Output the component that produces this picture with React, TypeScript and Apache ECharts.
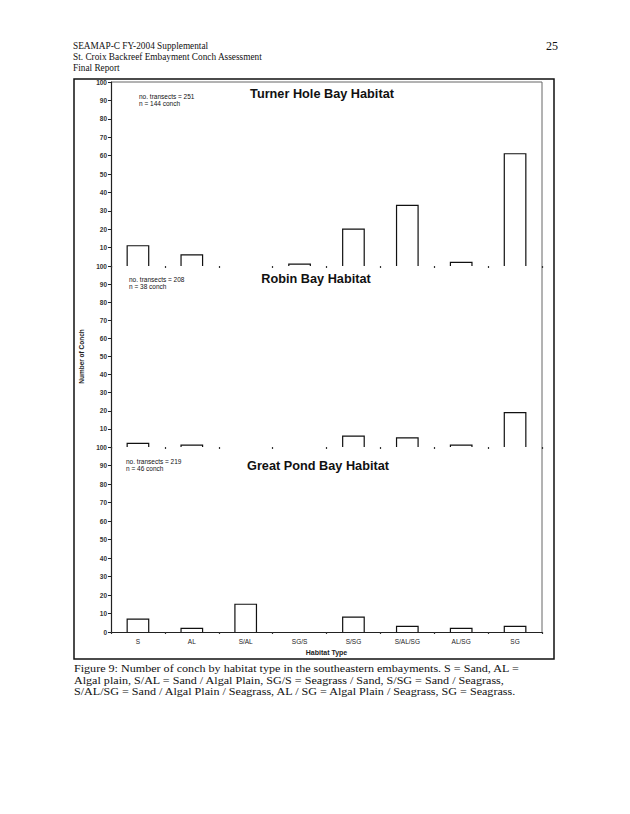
import React, { useEffect, useRef } from "react";
import * as echarts from "echarts";

const categories = ["S", "AL", "S/AL", "SG/S", "S/SG", "S/AL/SG", "AL/SG", "SG"];
const turnerHole = [11, 6, 0, 1, 20, 33, 2, 61];
const robinBay = [2, 1, 0, 0, 6, 5, 1, 19];
const greatPond = [7, 2, 15, 0, 8, 3, 2, 3];
const chartTitles = ["Turner Hole Bay Habitat", "Robin Bay Habitat", "Great Pond Bay Habitat"];
const transects = ["no. transects = 251", "no. transects = 208", "no. transects = 219"];
const conchCounts = ["n = 144 conch", "n = 38 conch", "n = 46 conch"];
const headerLines = [
  "SEAMAP-C FY-2004 Supplemental",
  "St. Croix Backreef Embayment Conch Assessment",
  "Final Report",
];
const pageNumber = "25";
const captionLines = [
  "Figure 9: Number of conch by habitat type in the southeastern embayments. S = Sand, AL =",
  "Algal plain, S/AL = Sand / Algal Plain, SG/S = Seagrass / Sand, S/SG = Sand / Seagrass,",
  "S/AL/SG = Sand / Algal Plain / Seagrass, AL / SG = Algal Plain / Seagrass, SG = Seagrass.",
];
const yMin = 0;
const yMax = 100;
const yInterval = 10;

const seriesValues = [turnerHole, robinBay, greatPond];

// layout
const PLOT_L = 111;
const PLOT_R = 542;
const GRID_TOPS = [82, 266, 447];
const GRID_BOTTOMS = [266, 447, 632];
const SANS = "Liberation Sans, Arial, sans-serif";
const SERIF = "Liberation Serif, Times New Roman, serif";

function buildOption() {
  const grids = GRID_TOPS.map((t, i) => ({
    left: PLOT_L,
    width: PLOT_R - PLOT_L,
    top: t,
    height: GRID_BOTTOMS[i] - t,
    containLabel: false,
  }));

  const xAxes = [0, 1, 2].map((i) => ({
    type: "category",
    gridIndex: i,
    data: categories,
    boundaryGap: true,
    axisLine: { show: i === 2, lineStyle: { color: "#222", width: 1.2 } },
    axisTick: { show: true, length: 2, lineStyle: { color: "#333", width: 1.2 } },
    axisLabel: {
      show: i === 2,
      fontFamily: SANS,
      fontSize: 6.5,
      color: "#222",
      margin: 6,
      interval: 0,
    },
    name: i === 2 ? "Habitat Type" : "",
    nameLocation: "middle",
    nameGap: 17,
    nameTextStyle: { fontFamily: SANS, fontSize: 7, fontWeight: "bold", color: "#222" },
  }));

  const yAxes = [0, 1, 2].map((i) => ({
    type: "value",
    gridIndex: i,
    min: yMin,
    max: yMax,
    interval: yInterval,
    axisLine: { show: true, lineStyle: { color: "#222", width: 1.2 } },
    axisTick: { show: true, length: 3, lineStyle: { color: "#222" } },
    splitLine: { show: false },
    axisLabel: {
      fontFamily: SANS,
      fontSize: 6.5,
      fontWeight: "bold",
      color: "#333",
      margin: 4,
      showMinLabel: i === 2,
    },
    name: i === 1 ? "Number of Conch" : "",
    nameLocation: "middle",
    nameGap: 19,
    nameRotate: 90,
    nameTextStyle: { fontFamily: SANS, fontSize: 6.5, fontWeight: "bold", color: "#222" },
  }));

  const series = seriesValues.map((vals, i) => ({
    type: "custom",
    xAxisIndex: i,
    yAxisIndex: i,
    data: vals.map((v, k) => [k, v]),
    renderItem: (params: any, api: any) => {
      const v = api.value(1);
      if (!v) return null;
      const top = api.coord([api.value(0), v]);
      const base = api.coord([api.value(0), 0]);
      const band = api.size([1, 0])[0];
      const w = band * 0.4;
      const x0 = top[0] - w / 2;
      const x1 = top[0] + w / 2;
      return {
        type: "polyline",
        shape: {
          points: [
            [x0, base[1]],
            [x0, top[1]],
            [x1, top[1]],
            [x1, base[1]],
          ],
        },
        style: { stroke: "#111", fill: "none", lineWidth: 1.2 },
      };
    },
  }));

  const text = (
    x: number,
    y: number,
    t: string,
    font: string,
    align = "left",
    scaleX = 1
  ) => ({
    type: "text",
    x,
    y,
    scaleX,
    style: {
      text: t,
      font,
      fill: "#111",
      align,
      verticalAlign: "middle",
      textAlign: align,
      textVerticalAlign: "middle",
    },
  });

  const graphic: any[] = [];
  // outer frame
  graphic.push({
    type: "rect",
    shape: { x: 74, y: 79, width: 480, height: 580 },
    style: { fill: "none", stroke: "#111", lineWidth: 1.5 },
  });
  // plot top and right borders
  graphic.push({
    type: "line",
    shape: { x1: PLOT_L, y1: GRID_TOPS[0], x2: PLOT_R, y2: GRID_TOPS[0] },
    style: { stroke: "#666", lineWidth: 1 },
  });
  graphic.push({
    type: "line",
    shape: { x1: PLOT_R, y1: GRID_TOPS[0], x2: PLOT_R, y2: GRID_BOTTOMS[2] },
    style: { stroke: "#666", lineWidth: 1 },
  });
  // header
  headerLines.forEach((l, i) => {
    graphic.push(text(73, 45 + i * 11, l, `10px ${SERIF}`, "left", 0.93));
  });
  graphic.push(text(558, 46, pageNumber, `12px ${SERIF}`, "right"));
  // chart titles & annotations
  const titleX = [322, 316, 318];
  const titleY = [94, 279, 466];
  const annX = [139, 129, 126];
  const annY = [96, 279, 461];
  chartTitles.forEach((t, i) => {
    graphic.push(text(titleX[i], titleY[i], t, `bold 12px ${SANS}`, "center", 1.06));
    graphic.push(text(annX[i], annY[i], transects[i], `6.5px ${SANS}`));
    graphic.push(text(annX[i], annY[i] + 7, conchCounts[i], `6.5px ${SANS}`));
  });
  // caption
  captionLines.forEach((l, i) => {
    graphic.push(text(74, 669 + i * 11.5, l, `11px ${SERIF}`, "left", 1.1));
  });

  return {
    animation: false,
    backgroundColor: "#fff",
    grid: grids,
    xAxis: xAxes,
    yAxis: yAxes,
    series,
    graphic,
  };
}

export default function App() {
  const ref = useRef<HTMLDivElement>(null);
  useEffect(() => {
    if (!ref.current) return;
    const chart = echarts.init(ref.current, null, { renderer: "svg" });
    chart.setOption(buildOption() as any);
    return () => chart.dispose();
  }, []);
  return (
    <div
      ref={ref}
      style={{ position: "absolute", left: 0, top: 0, width: 630, height: 814, background: "#fff" }}
    />
  );
}
